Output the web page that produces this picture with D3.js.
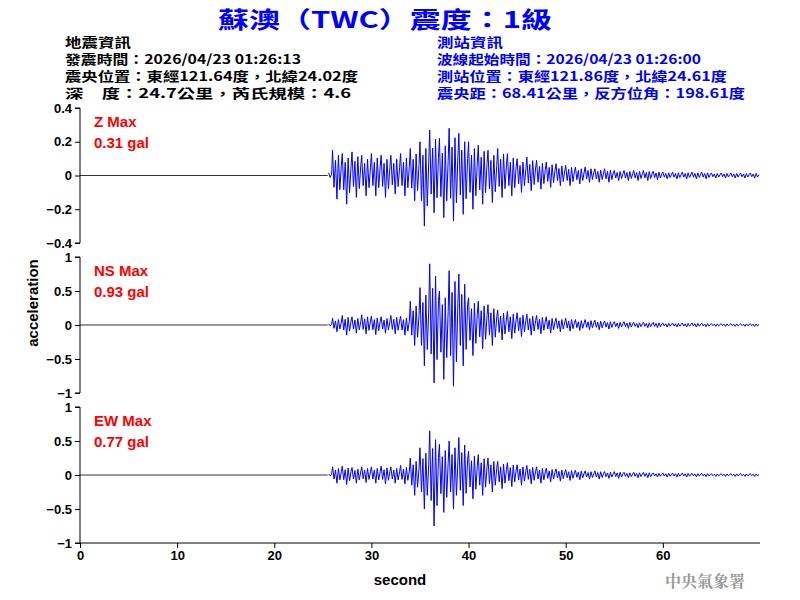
<!DOCTYPE html>
<html><head><meta charset="utf-8">
<script src="https://cdn.jsdelivr.net/npm/d3@7"></script>
<style>body{margin:0;background:#fff}svg{font-family:Arial,"Liberation Sans",sans-serif}</style>
</head><body><svg id="c" width="800" height="600"></svg>
<script>
// envelope (peak up / peak down) per second, starting at t=25 s
const startT = 25;
const zUp = [0.02,0.15,0.13,0.14,0.12,0.13,0.12,0.12,0.13,0.16,0.2,0.27,0.22,0.28,0.25,0.2,0.18,0.15,0.16,0.13,0.1,0.11,0.09,0.08,0.07,0.06,0.05,0.05,0.04,0.04,0.03,0.03,0.03,0.03,0.025,0.02,0.02,0.02,0.02,0.02,0.015,0.015,0.015,0.015,0.015];
const zDn = [-0.02,-0.14,-0.17,-0.13,-0.12,-0.12,-0.13,-0.11,-0.12,-0.15,-0.3,-0.22,-0.25,-0.27,-0.23,-0.2,-0.17,-0.16,-0.13,-0.12,-0.1,-0.09,-0.08,-0.07,-0.06,-0.06,-0.05,-0.04,-0.04,-0.04,-0.03,-0.03,-0.03,-0.03,-0.025,-0.02,-0.02,-0.02,-0.02,-0.02,-0.015,-0.015,-0.015,-0.015,-0.015];
const nsUp = [0.02,0.1,0.14,0.12,0.15,0.13,0.12,0.14,0.13,0.35,0.55,0.9,0.5,0.8,0.75,0.4,0.35,0.3,0.22,0.2,0.18,0.16,0.14,0.12,0.1,0.1,0.08,0.08,0.07,0.06,0.05,0.05,0.04,0.04,0.04,0.03,0.03,0.03,0.03,0.025,0.02,0.02,0.02,0.02,0.02];
const nsDn = [-0.02,-0.1,-0.15,-0.12,-0.13,-0.14,-0.12,-0.13,-0.15,-0.3,-0.6,-0.85,-0.8,-0.9,-0.6,-0.45,-0.35,-0.3,-0.22,-0.2,-0.17,-0.15,-0.13,-0.12,-0.1,-0.09,-0.08,-0.07,-0.07,-0.06,-0.05,-0.05,-0.04,-0.04,-0.04,-0.03,-0.03,-0.03,-0.03,-0.025,-0.02,-0.02,-0.02,-0.02,-0.02];
const ewUp = [0.02,0.12,0.13,0.11,0.12,0.12,0.13,0.12,0.14,0.25,0.4,0.65,0.45,0.5,0.55,0.35,0.3,0.25,0.2,0.18,0.15,0.14,0.12,0.1,0.09,0.08,0.07,0.06,0.06,0.05,0.05,0.04,0.04,0.04,0.03,0.03,0.03,0.03,0.025,0.025,0.02,0.02,0.02,0.02,0.02];
const ewDn = [-0.02,-0.12,-0.14,-0.12,-0.11,-0.12,-0.13,-0.12,-0.13,-0.3,-0.5,-0.75,-0.55,-0.5,-0.45,-0.35,-0.3,-0.25,-0.2,-0.17,-0.15,-0.13,-0.12,-0.1,-0.09,-0.08,-0.07,-0.06,-0.06,-0.05,-0.05,-0.04,-0.04,-0.04,-0.03,-0.03,-0.03,-0.03,-0.025,-0.025,-0.02,-0.02,-0.02,-0.02,-0.02];
const xTicks = [0,10,20,30,40,50,60];
const leftInfo = ["地震資訊","發震時間：2026/04/23 01:26:13","震央位置：東經121.64度，北緯24.02度","深　度：24.7公里，芮氏規模：4.6"];
const rightInfo = ["測站資訊","波線起始時間：2026/04/23 01:26:00","測站位置：東經121.86度，北緯24.61度","震央距：68.41公里，反方位角：198.61度"];
const leftLen = [66,236,293,286];
const rightLen = [66,264,290,308];
const panels = [
  {name:"Z Max", max:"0.31 gal", up:zUp, dn:zDn, dom:[-0.4,0.4], ticks:[-0.4,-0.2,0,0.2,0.4], top:108, bot:243},
  {name:"NS Max", max:"0.93 gal", up:nsUp, dn:nsDn, dom:[-1,1], ticks:[-1,-0.5,0,0.5,1], top:257, bot:393},
  {name:"EW Max", max:"0.77 gal", up:ewUp, dn:ewDn, dom:[-1,1], ticks:[-1,-0.5,0,0.5,1], top:407, bot:543}
];

const svg = d3.select("#c");
const x = d3.scaleLinear().domain([0,70]).range([80,760]);
const cjk = '"Noto Sans CJK TC",sans-serif';

svg.append("text").attr("x",218).attr("y",28).attr("textLength",334).attr("lengthAdjust","spacingAndGlyphs")
  .attr("fill","#0000ff").style("font-size","23px").style("font-weight","bold").style("font-family",cjk)
  .text("蘇澳（TWC）震度：1級");
leftInfo.forEach((t,i)=>svg.append("text").attr("x",65).attr("y",47+i*17)
  .attr("textLength",leftLen[i]).attr("lengthAdjust","spacingAndGlyphs")
  .style("font-size","13px").style("font-weight","bold").style("font-family",cjk).text(t));
rightInfo.forEach((t,i)=>svg.append("text").attr("x",437).attr("y",47+i*17).attr("fill","#0000ff")
  .attr("textLength",rightLen[i]).attr("lengthAdjust","spacingAndGlyphs")
  .style("font-size","13px").style("font-weight","bold").style("font-family",cjk).text(t));

panels.forEach(p=>{
  const y = d3.scaleLinear().domain(p.dom).range([p.bot,p.top]);
  const g = svg.append("g");
  g.append("g").attr("transform","translate(80,0)")
    .call(d3.axisLeft(y).tickValues(p.ticks).tickSize(5).tickFormat(d3.format("~g")))
    .call(a=>a.selectAll("text").style("font-size","13px").style("font-weight","bold").attr("fill","#000"))
    .call(a=>a.select(".domain").attr("d",`M-5,${p.top}H0V${p.bot}H-5`));
  g.append("line").attr("x1",x(0)).attr("x2",x(startT+0.5)).attr("y1",y(0)).attr("y2",y(0)).attr("stroke","#000").attr("stroke-width",0.8);
  // min/max trace: each second's peak up and peak down, alternating
  const pts = [];
  p.up.forEach((u,i)=>{
    const t = startT+i;
    pts.push({t:t, v:u}); pts.push({t:t+0.15, v:p.dn[i]*0.5});
    pts.push({t:t+0.3, v:u*0.6}); pts.push({t:t+0.45, v:p.dn[i]});
    pts.push({t:t+0.6, v:u*0.8}); pts.push({t:t+0.75, v:p.dn[i]*0.6});
    pts.push({t:t+0.9, v:u*0.4});
  });
  g.append("path").datum(pts.filter(d=>d.t>=startT+0.5))
    .attr("d",d3.line().x(d=>x(d.t)).y(d=>y(d.v)))
    .attr("fill","none").attr("stroke","#0000ff").attr("stroke-width",1);
  g.append("text").attr("x",94).attr("y",p.top+19).attr("fill","#ff0000").style("font-size","15px").style("font-weight","bold").text(p.name);
  g.append("text").attr("x",94).attr("y",p.top+40).attr("fill","#ff0000").style("font-size","15px").style("font-weight","bold").text(p.max);
});

svg.append("g").attr("transform","translate(0,543)")
  .call(d3.axisBottom(x).tickValues(xTicks).tickSize(5))
  .call(a=>a.selectAll("text").style("font-size","13px").style("font-weight","bold").attr("fill","#000"))
  .call(a=>a.select(".domain").attr("d","M80,0H760"));

svg.append("text").attr("x",400).attr("y",585).attr("text-anchor","middle").style("font-size","15px").style("font-weight","bold").text("second");
svg.append("text").attr("transform","translate(38,303) rotate(-90)").attr("text-anchor","middle").style("font-size","15px").style("font-weight","bold").text("acceleration");
svg.append("text").attr("x",745).attr("y",587).attr("text-anchor","end").attr("fill","#999")
  .style("font-size","16px").style("font-weight","bold").style("font-family",'"Noto Serif CJK TC","Noto Sans CJK TC",serif').text("中央氣象署");
</script></body></html>
